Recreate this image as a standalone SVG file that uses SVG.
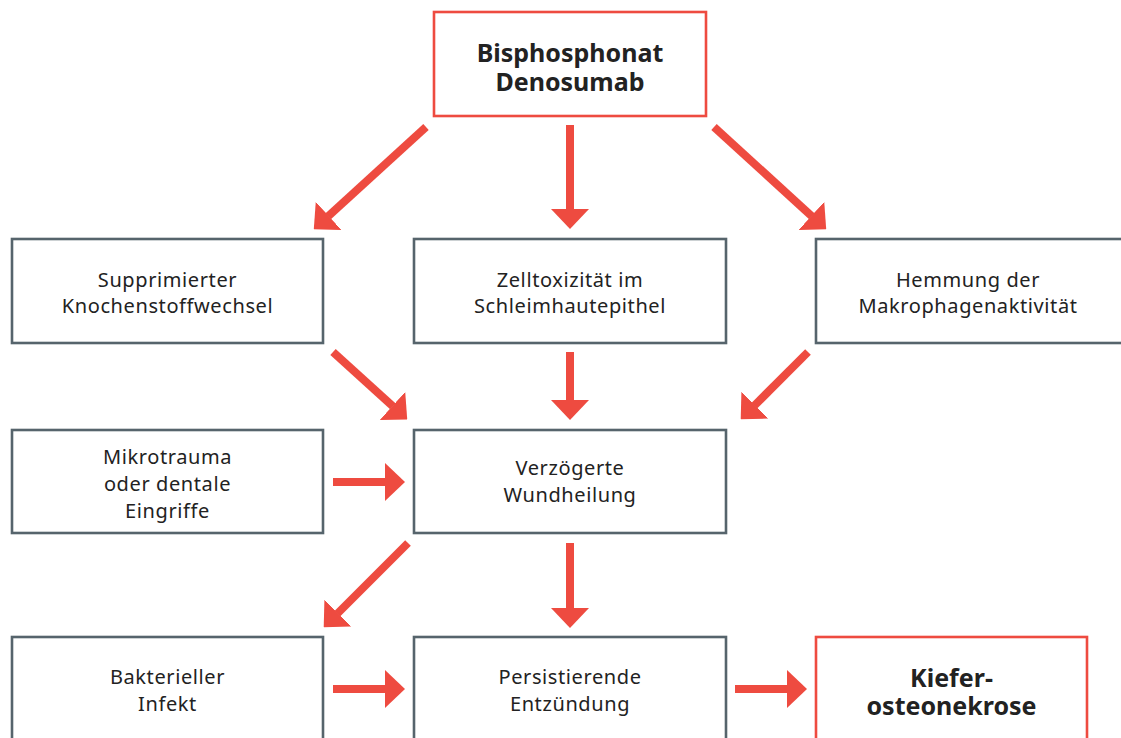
<svg xmlns="http://www.w3.org/2000/svg" width="1121" height="738" viewBox="0 0 1121 738">
<defs>
<style>
.box{fill:#fff;stroke:#56646c;stroke-width:2.6}
.rbox{fill:#fff;stroke:#ee4b40;stroke-width:2.6}
.t{font-family:"Noto Sans","Liberation Sans",sans-serif;font-size:20px;letter-spacing:0.6px;fill:#222;text-anchor:middle}
.b{font-family:"Noto Sans","Liberation Sans",sans-serif;font-size:25px;font-weight:bold;fill:#222;text-anchor:middle}
.a{stroke:#ee4b40;stroke-width:8;fill:none;marker-end:url(#h)}
</style>
<marker id="h" markerUnits="userSpaceOnUse" viewBox="0 0 20 38" markerWidth="20" markerHeight="38" refX="0.5" refY="19" orient="auto">
<path d="M0,0 L20,19 L0,38 Z" fill="#ee4b40"/>
</marker>
</defs>
<rect width="1121" height="738" fill="#fff"/>
<g id="connectors">
<line class="a" x1="426" y1="127" x2="328.2" y2="216.2"/>
<line class="a" x1="570" y1="125" x2="570" y2="209.5"/>
<line class="a" x1="714" y1="127" x2="811.8" y2="216.2"/>
<line class="a" x1="333" y1="352" x2="392.8" y2="406.3"/>
<line class="a" x1="570" y1="352" x2="570" y2="400.5"/>
<line class="a" x1="808" y1="352" x2="754.5" y2="405.5"/>
<line class="a" x1="333" y1="482" x2="385.5" y2="482"/>
<line class="a" x1="408" y1="543" x2="337.5" y2="613.5"/>
<line class="a" x1="570" y1="543" x2="570" y2="608.5"/>
<line class="a" x1="333" y1="689" x2="385.5" y2="689"/>
<line class="a" x1="735" y1="689" x2="787.5" y2="689"/>
</g>
<g id="n-bisphosphonat">
<rect class="rbox" x="434" y="12" width="272" height="104"/>
<text class="b" x="570" y="62">Bisphosphonat</text>
<text class="b" x="570" y="91">Denosumab</text>
</g>
<g id="n-knochen">
<rect class="box" x="12" y="239" width="311" height="104"/>
<text class="t" x="167.5" y="287">Supprimierter</text>
<text class="t" x="167.5" y="313">Knochenstoffwechsel</text>
</g>
<g id="n-zelltox">
<rect class="box" x="414" y="239" width="312" height="104"/>
<text class="t" x="570" y="287">Zelltoxizität im</text>
<text class="t" x="570" y="313">Schleimhautepithel</text>
</g>
<g id="n-makro">
<rect class="box" x="816" y="239" width="310" height="104"/>
<text class="t" x="968" y="287">Hemmung der</text>
<text class="t" x="968" y="313">Makrophagenaktivität</text>
</g>
<g id="n-mikro">
<rect class="box" x="12" y="430" width="311" height="103"/>
<text class="t" x="167.5" y="464">Mikrotrauma</text>
<text class="t" x="167.5" y="491">oder dentale</text>
<text class="t" x="167.5" y="518">Eingriffe</text>
</g>
<g id="n-wund">
<rect class="box" x="414" y="430" width="312" height="103"/>
<text class="t" x="570" y="475">Verzögerte</text>
<text class="t" x="570" y="502">Wundheilung</text>
</g>
<g id="n-bakt">
<rect class="box" x="12" y="637" width="311" height="110"/>
<text class="t" x="167.5" y="684">Bakterieller</text>
<text class="t" x="167.5" y="711">Infekt</text>
</g>
<g id="n-entz">
<rect class="box" x="414" y="637" width="312" height="110"/>
<text class="t" x="570" y="684">Persistierende</text>
<text class="t" x="570" y="711">Entzündung</text>
</g>
<g id="n-kiefer">
<rect class="rbox" x="816" y="637" width="271" height="110"/>
<text class="b" x="951.5" y="687">Kiefer-</text>
<text class="b" x="951.5" y="715">osteonekrose</text>
</g>
</svg>
